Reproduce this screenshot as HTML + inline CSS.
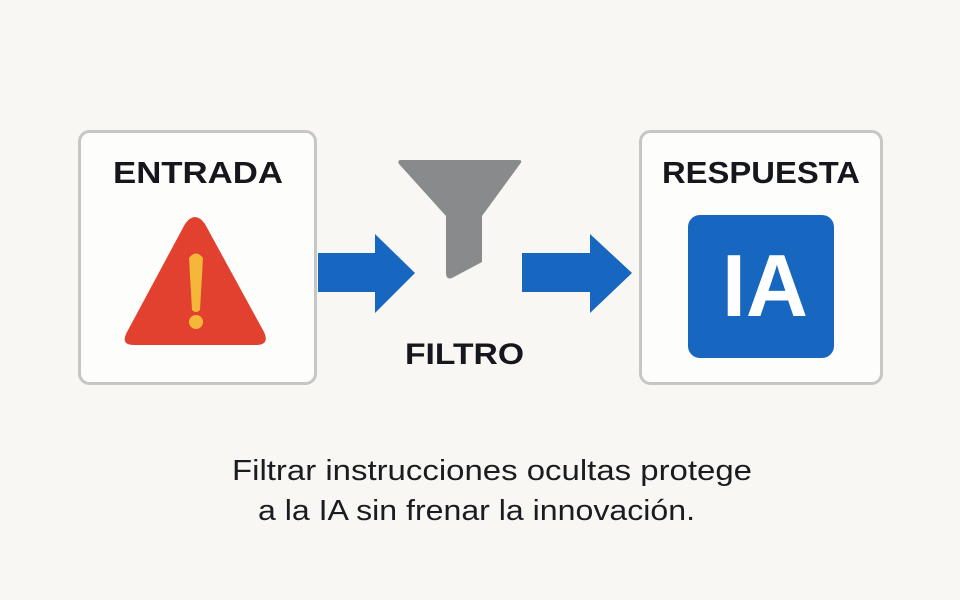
<!DOCTYPE html>
<html><head><meta charset="utf-8"><style>
html,body{margin:0;padding:0;background:#f8f7f3;}
svg{display:block}
</style></head><body>
<svg width="960" height="600" viewBox="0 0 960 600" xmlns="http://www.w3.org/2000/svg">
<rect width="960" height="600" fill="#f8f7f3"/>
<rect x="79.5" y="131.5" width="236" height="252" rx="10" fill="#fdfdfb" stroke="#c6c6c4" stroke-width="3"/>
<rect x="640.5" y="131.5" width="241" height="252" rx="10" fill="#fdfdfb" stroke="#c6c6c4" stroke-width="3"/>
<text x="113" y="183" textLength="170" lengthAdjust="spacingAndGlyphs" font-family="Liberation Sans, sans-serif" font-weight="bold" font-size="31" fill="#15171c">ENTRADA</text>
<text x="662" y="183" textLength="198" lengthAdjust="spacingAndGlyphs" font-family="Liberation Sans, sans-serif" font-weight="bold" font-size="31" fill="#15171c">RESPUESTA</text>
<path d="M185 224 Q195 210 205 224 L264 332 Q270 345 256 345 L134 345 Q120 345 127 332 Z" fill="#e2412f"/>
<path d="M189 258 Q196 249 203 258 L200 310 Q196 314 192 310 Z" fill="#f4b73a"/>
<circle cx="196" cy="322" r="7" fill="#f4b73a"/>
<path d="M318 253 H375 V234 L415 273 L375 313 V292 H318 Z" fill="#1767c0"/>
<path d="M522 253 H590 V234 L632 273 L590 313 V292 H522 Z" fill="#1767c0"/>
<path d="M401 160 H519 Q523 160 520 164 L482 216 L482 262 L452 278 Q446 280 446 273 L446 216 L399 164 Q397 160 401 160 Z" fill="#888a8c"/>
<text x="405" y="364" textLength="119" lengthAdjust="spacingAndGlyphs" font-family="Liberation Sans, sans-serif" font-weight="bold" font-size="30" fill="#15171c">FILTRO</text>
<rect x="688" y="215" width="146" height="143" rx="12" fill="#1767c0"/>
<text x="722" y="316" textLength="86" lengthAdjust="spacingAndGlyphs" font-family="Liberation Sans, sans-serif" font-weight="bold" font-size="88" fill="#ffffff">IA</text>
<text x="232" y="480" textLength="520" lengthAdjust="spacingAndGlyphs" font-family="Liberation Sans, sans-serif" font-size="29" fill="#1a1c20">Filtrar instrucciones ocultas protege</text>
<text x="258" y="520" textLength="437" lengthAdjust="spacingAndGlyphs" font-family="Liberation Sans, sans-serif" font-size="29" fill="#1a1c20">a la IA sin frenar la innovación.</text>
</svg>
</body></html>
